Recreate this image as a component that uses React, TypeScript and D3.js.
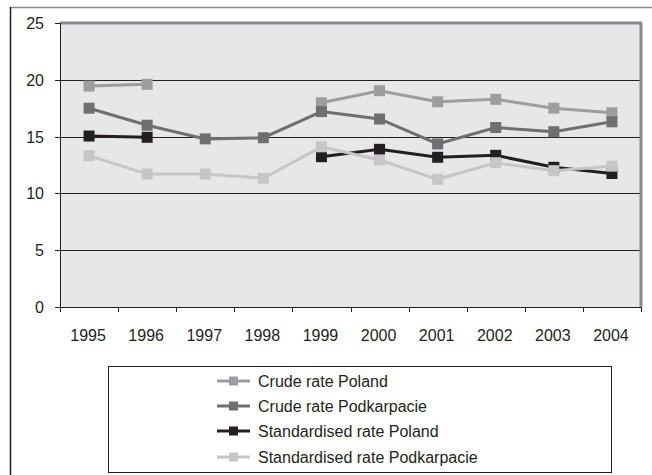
import React from "react";
import * as d3 from "d3";

const years = ["1995", "1996", "1997", "1998", "1999", "2000", "2001", "2002", "2003", "2004"];
const yTicks = [0, 5, 10, 15, 20, 25];

const crudePoland: (number | null)[] = [19.45, 19.6, null, null, 17.98, 19.04, 18.07, 18.28, 17.5, 17.1];
const crudePodkarpacie: (number | null)[] = [17.5, 16.0, 14.8, 14.9, 17.2, 16.55, 14.35, 15.8, 15.43, 16.3];
const stdPoland: (number | null)[] = [15.05, 14.94, null, null, 13.23, 13.88, 13.18, 13.35, 12.3, 11.75];
const stdPodkarpacie: (number | null)[] = [13.32, 11.7, 11.7, 11.33, 14.1, 12.94, 11.24, 12.7, 12.0, 12.4];

const seriesNames = ["Crude rate Poland", "Crude rate Podkarpacie", "Standardised rate Poland", "Standardised rate Podkarpacie"];
const seriesData = [crudePoland, crudePodkarpacie, stdPoland, stdPodkarpacie];
const seriesColors = ["#9d9d9f", "#6f6f71", "#231f20", "#c6c6c8"];

const W = 652;
const H = 475;
const left = 60;
const right = 641;
const top = 23;
const bottom = 307;
const font = "'Liberation Sans', Arial, sans-serif";

export default function App() {
  const x = d3.scaleBand<string>().domain(years).range([left, right]).padding(0);
  const y = d3.scaleLinear().domain([0, 25]).range([bottom, top]);
  const cx = (i: number) => (x(years[i]) as number) + x.bandwidth() / 2;

  const line = d3
    .line<number | null>()
    .defined((d) => d !== null)
    .x((_, i) => cx(i))
    .y((d) => y(d as number));

  const legendX = 108;
  const legendY = 366;
  const legendW = 503;
  const legendH = 106;
  const rowY = [381, 406, 431, 457];

  return (
    <svg width={W} height={H} style={{ position: "absolute", left: 0, top: 0, fontFamily: font }}>
      <rect x={0} y={0} width={W} height={H} fill="#fff" />
      {/* outer frame */}
      <line x1={10.5} y1={7.5} x2={W} y2={7.5} stroke="#8a8a8c" strokeWidth={1.5} />
      <line x1={10.5} y1={7} x2={10.5} y2={H} stroke="#231f20" strokeWidth={1.5} />

      {/* plot area */}
      <rect x={left} y={top} width={right - left} height={bottom - top} fill="#e6e7e9" />
      {yTicks
        .filter((t) => t > 0 && t < 25)
        .map((t) => (
          <line key={t} x1={left} x2={right} y1={Math.round(y(t)) + 0.5} y2={Math.round(y(t)) + 0.5} stroke="#231f20" strokeWidth={1} />
        ))}
      <line x1={left} x2={right + 1} y1={top} y2={top} stroke="#8a8a8c" strokeWidth={3} />
      <line x1={right} x2={right} y1={top} y2={bottom} stroke="#8a8a8c" strokeWidth={3} />

      {/* axes */}
      <line x1={left + 0.5} x2={left + 0.5} y1={top} y2={bottom} stroke="#231f20" strokeWidth={1} />
      <line x1={left} x2={right + 1} y1={bottom + 0.5} y2={bottom + 0.5} stroke="#231f20" strokeWidth={1} />
      {yTicks.map((t) => (
        <g key={t}>
          <line x1={left - 5} x2={left} y1={Math.round(y(t)) + 0.5} y2={Math.round(y(t)) + 0.5} stroke="#231f20" />
          <text x={44} y={y(t) + 6} textAnchor="end" fontSize={16} fill="#231f20">
            {t}
          </text>
        </g>
      ))}
      {years.map((yr) => (
        <line key={"t" + yr} x1={Math.round(x(yr) as number) + 0.5} x2={Math.round(x(yr) as number) + 0.5} y1={bottom} y2={bottom + 5} stroke="#231f20" />
      ))}
      <line x1={right + 0.5} x2={right + 0.5} y1={bottom} y2={bottom + 5} stroke="#231f20" />
      {years.map((yr, i) => (
        <text key={"l" + yr} x={cx(i) - 1} y={341} textAnchor="middle" fontSize={16} fill="#231f20">
          {yr}
        </text>
      ))}

      {/* series */}
      {seriesData.map((s, k) => (
        <g key={seriesNames[k]}>
          <path d={line(s) || ""} fill="none" stroke={seriesColors[k]} strokeWidth={3} />
          {s.map((v, i) =>
            v === null ? null : (
              <rect key={i} x={cx(i) - 5.5} y={y(v) - 5.5} width={11} height={11} fill={seriesColors[k]} />
            )
          )}
        </g>
      ))}

      {/* legend */}
      <rect x={legendX + 0.5} y={legendY + 0.5} width={legendW} height={legendH} fill="#fff" stroke="#231f20" strokeWidth={1} />
      {seriesNames.map((n, k) => (
        <g key={"lg" + n}>
          <line x1={217} x2={250} y1={rowY[k]} y2={rowY[k]} stroke={seriesColors[k]} strokeWidth={3} />
          <rect x={229} y={rowY[k] - 4.5} width={9} height={9} fill={seriesColors[k]} />
          <text x={258} y={rowY[k] + 6} fontSize={16} fill="#231f20">
            {n}
          </text>
        </g>
      ))}
    </svg>
  );
}
